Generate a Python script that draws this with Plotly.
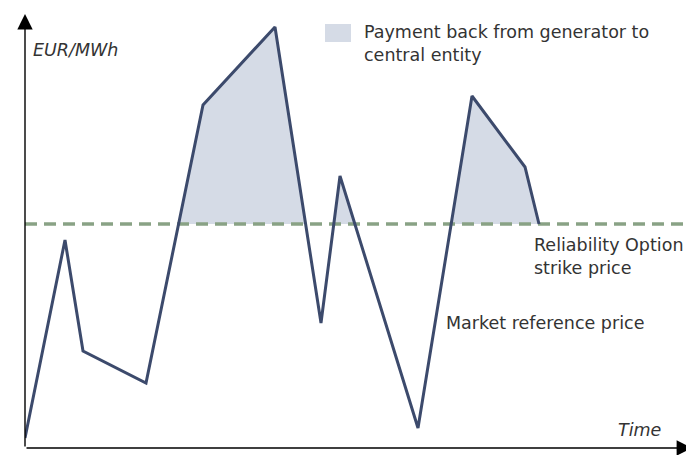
import plotly.graph_objects as go

# market reference price (arbitrary units)
time = [0, 40, 58, 121, 178, 250, 296, 315, 393, 447, 500, 514]
price = [10, 208, 97, 65, 343, 421, 125, 272, 20, 352, 281, 224]
strike = 224

legend_text = "Payment back from generator to<br>central entity"
strike_text = "Reliability Option<br>strike price"
price_text = "Market reference price"
y_title = "EUR/MWh"
x_title = "Time"

LINE = "#3c4a6c"
FILL = "#d5dbe6"
DASH = "#89a285"
TXT = "#333333"
FONT = "DejaVu Sans"
FS = 17.5

# price clipped at the strike, with the crossing points added
fx, fy = [], []
for i in range(len(time)):
    if i > 0:
        p0, p1 = price[i - 1], price[i]
        if (p0 - strike) * (p1 - strike) < 0:
            t = (strike - p0) / (p1 - p0)
            fx.append(time[i - 1] + t * (time[i] - time[i - 1]))
            fy.append(strike)
    fx.append(time[i])
    fy.append(max(price[i], strike))

xmax, ymax = 665, 433

fig = go.Figure()
fig.add_trace(go.Scatter(x=fx, y=[strike] * len(fx), mode="lines",
                         line=dict(width=0), showlegend=False, hoverinfo="skip"))
fig.add_trace(go.Scatter(x=fx, y=fy, mode="lines", line=dict(width=0),
                         fill="tonexty", fillcolor=FILL, showlegend=False,
                         hoverinfo="skip"))
fig.add_trace(go.Scatter(x=[0, xmax], y=[strike, strike], mode="lines",
                         line=dict(color=DASH, width=3.5, dash="12px,7px"),
                         showlegend=False))
fig.add_trace(go.Scatter(x=time, y=price, mode="lines",
                         line=dict(color=LINE, width=3), showlegend=False,
                         cliponaxis=False))

# legend swatch
fig.add_shape(type="rect", xref="x", yref="y", x0=300, x1=326, y0=406, y1=424,
              fillcolor=FILL, line_width=0)

# axes with arrow heads
fig.add_annotation(x=0, y=ymax + 1, ax=0, ay=0, xref="x", yref="y",
                   axref="x", ayref="y", text="", showarrow=True,
                   arrowhead=2, arrowsize=2.2, arrowwidth=1.4, arrowcolor="black")
fig.add_annotation(x=xmax + 2, y=0, ax=0, ay=0, xref="x", yref="y",
                   axref="x", ayref="y", text="", showarrow=True,
                   arrowhead=2, arrowsize=2.2, arrowwidth=1.4, arrowcolor="black")

fig.add_annotation(x=6, y=398, text="<i>" + y_title + "</i>", showarrow=False,
                   xanchor="left", yanchor="middle",
                   font=dict(family=FONT, size=FS, color=TXT))
fig.add_annotation(x=638, y=18, text="<i>" + x_title + "</i>", showarrow=False,
                   xanchor="right", yanchor="middle",
                   font=dict(family=FONT, size=FS, color=TXT))
fig.add_annotation(x=337, y=405, text=legend_text, showarrow=False,
                   xanchor="left", yanchor="middle", align="left",
                   font=dict(family=FONT, size=FS, color=TXT))
fig.add_annotation(x=507, y=192, text=strike_text, showarrow=False,
                   xanchor="left", yanchor="middle", align="left",
                   font=dict(family=FONT, size=FS, color=TXT))
fig.add_annotation(x=419, y=125, text=price_text, showarrow=False,
                   xanchor="left", yanchor="middle", align="left",
                   font=dict(family=FONT, size=FS, color=TXT))

fig.update_xaxes(range=[0, xmax], visible=False)
fig.update_yaxes(range=[0, ymax], visible=False)
# the page puts the figure 8px in from the top left corner
fig.update_layout(width=686, height=447, autosize=False,
                  margin=dict(l=17, r=4, t=7, b=7),
                  paper_bgcolor="white", plot_bgcolor="white",
                  showlegend=False)

fig.write_html("out.html")
